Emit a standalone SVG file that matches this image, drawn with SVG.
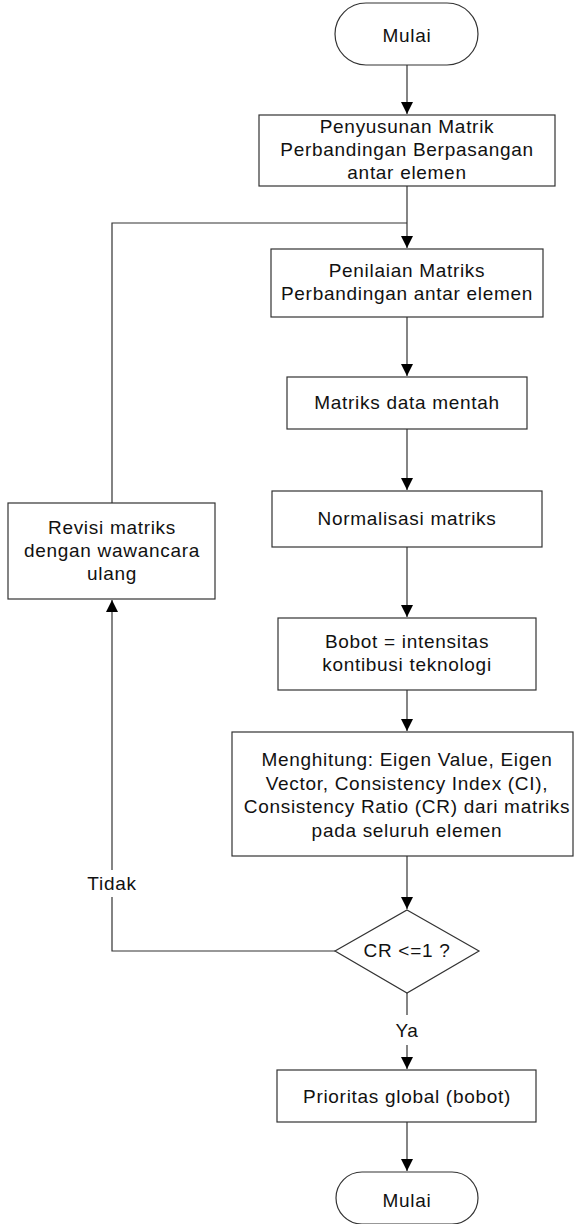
<svg xmlns="http://www.w3.org/2000/svg" width="574" height="1224" viewBox="0 0 574 1224">
  <style>
    .shape { fill: #ffffff; stroke: #333333; stroke-width: 1.2; }
    .link { fill: none; stroke: #333333; stroke-width: 1.2; }
    .label { font-family: "Liberation Sans", Arial, sans-serif; font-size: 19px; letter-spacing: 0.7px; fill: #111111; text-anchor: middle; }
  </style>
  <defs>
    <marker id="arrow" markerUnits="userSpaceOnUse" markerWidth="12" markerHeight="12" refX="12" refY="6" orient="auto">
      <path d="M0,0 L12,6 L0,12 z" fill="#000000"/>
    </marker>
  </defs>

  <!-- connectors -->
  <g id="connectors">
    <path class="link" d="M407,65 V114" marker-end="url(#arrow)"/>
    <path class="link" d="M407,186 V248" marker-end="url(#arrow)"/>
    <path class="link" d="M112,503 V223 H407"/>
    <path class="link" d="M407,317 V376" marker-end="url(#arrow)"/>
    <path class="link" d="M407,429 V490" marker-end="url(#arrow)"/>
    <path class="link" d="M407,547 V617" marker-end="url(#arrow)"/>
    <path class="link" d="M407,690 V731" marker-end="url(#arrow)"/>
    <path class="link" d="M407,856 V909" marker-end="url(#arrow)"/>
    <!-- "Tidak" branch back to revision -->
    <path class="link" d="M335,951 H112 V897"/>
    <path class="link" d="M112,870 V600" marker-end="url(#arrow)"/>
    <!-- "Ya" branch -->
    <path class="link" d="M407,993 V1015"/>
    <path class="link" d="M407,1045 V1069" marker-end="url(#arrow)"/>
    <path class="link" d="M407,1122 V1171" marker-end="url(#arrow)"/>
    <text class="label" x="112" y="890">Tidak</text>
    <text class="label" x="407" y="1037">Ya</text>
  </g>

  <g id="start">
    <rect class="shape" x="335" y="3" width="143" height="62" rx="31" ry="31"/>
    <text class="label" x="407" y="42">Mulai</text>
  </g>

  <g id="penyusunan">
    <rect class="shape" x="259" y="115" width="296" height="71"/>
    <text class="label" x="407" y="133">Penyusunan Matrik</text>
    <text class="label" x="407" y="156">Perbandingan Berpasangan</text>
    <text class="label" x="407" y="179">antar elemen</text>
  </g>

  <g id="penilaian">
    <rect class="shape" x="271" y="249" width="272" height="68"/>
    <text class="label" x="407" y="277">Penilaian Matriks</text>
    <text class="label" x="407" y="300">Perbandingan antar elemen</text>
  </g>

  <g id="data-mentah">
    <rect class="shape" x="287" y="377" width="240" height="52"/>
    <text class="label" x="407" y="409">Matriks data mentah</text>
  </g>

  <g id="normalisasi">
    <rect class="shape" x="272" y="491" width="270" height="56"/>
    <text class="label" x="407" y="525">Normalisasi matriks</text>
  </g>

  <g id="bobot">
    <rect class="shape" x="278" y="618" width="258" height="72"/>
    <text class="label" x="407" y="648">Bobot = intensitas</text>
    <text class="label" x="407" y="671">kontibusi teknologi</text>
  </g>

  <g id="menghitung">
    <rect class="shape" x="232" y="732" width="341" height="124"/>
    <text class="label" x="407" y="766">Menghitung: Eigen Value, Eigen</text>
    <text class="label" x="407" y="790">Vector, Consistency Index (CI),</text>
    <text class="label" x="407" y="813">Consistency Ratio (CR) dari matriks</text>
    <text class="label" x="407" y="837">pada seluruh elemen</text>
  </g>

  <g id="cek-cr">
    <polygon class="shape" points="407,910 479,951 407,993 335,951"/>
    <text class="label" x="407" y="957">CR &lt;=1 ?</text>
  </g>

  <g id="revisi">
    <rect class="shape" x="8" y="503" width="207" height="96"/>
    <text class="label" x="112" y="534">Revisi matriks</text>
    <text class="label" x="112" y="557">dengan wawancara</text>
    <text class="label" x="112" y="580">ulang</text>
  </g>

  <g id="prioritas">
    <rect class="shape" x="277" y="1070" width="259" height="52"/>
    <text class="label" x="407" y="1103">Prioritas global (bobot)</text>
  </g>

  <g id="end">
    <rect class="shape" x="336" y="1172" width="142" height="52" rx="26" ry="26"/>
    <text class="label" x="407" y="1207">Mulai</text>
  </g>
</svg>
